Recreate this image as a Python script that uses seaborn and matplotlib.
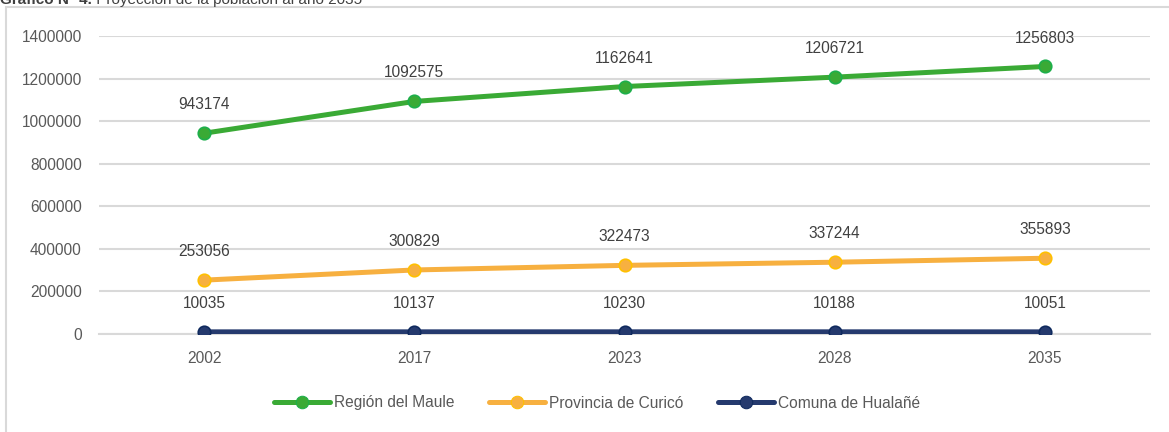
import matplotlib
matplotlib.use("Agg")
import matplotlib.pyplot as plt
import seaborn as sns
import pandas as pd
from matplotlib.patches import Rectangle

years = ["2002", "2017", "2023", "2028", "2035"]
series_names = ["Región del Maule", "Provincia de Curicó", "Comuna de Hualañé"]
maule = [943174, 1092575, 1162641, 1206721, 1256803]
curico = [253056, 300829, 322473, 337244, 355893]
hualane = [10035, 10137, 10230, 10188, 10051]
yticks = [0, 200000, 400000, 600000, 800000, 1000000, 1200000, 1400000]
title_bold = "Gráfico N° 4."
title_rest = " Proyección de la población al año 2035"

colors = ["#3AAA35", "#F7B040", "#253A6E"]
edge_colors = ["#1DAF4B", "#FFC000", "#0F2A5E"]

df = pd.DataFrame({
    "Año": years * 3,
    "Población": maule + curico + hualane,
    "Serie": sum([[n] * len(years) for n in series_names], []),
})

sns.set_theme(style="white")
FONT = ["Liberation Sans Narrow", "Liberation Sans", "DejaVu Sans"]
plt.rcParams["font.family"] = FONT
TXT = "#595959"
FS = 11.2

W, H = 1169, 432
fig = plt.figure(figsize=(W / 100, H / 100), dpi=100)
ax = fig.add_axes([99 / W, (H - 334) / H, (1150 - 99) / W, (334 - 36) / H])

# outer frame
fig.patches.append(Rectangle((6 / W, -0.1), 1.2, (H - 7) / H + 0.1, transform=fig.transFigure,
                             fill=False, edgecolor="#D9D9D9", linewidth=1.5))

sns.lineplot(data=df, x="Año", y="Población", hue="Serie", palette=colors,
             linewidth=3.6, marker="o", markersize=9, sort=False, ax=ax, zorder=3)

for line, ec in zip(ax.get_lines()[:3], edge_colors):
    line.set_markeredgecolor(ec)
    line.set_markeredgewidth(1.2)

for vals in (maule, curico, hualane):
    for i, v in enumerate(vals):
        ax.annotate(f"{v}", (i, v), xytext=(0, 20.5), textcoords="offset points",
                    ha="center", va="center", fontsize=FS, color="#404040", family=FONT)

ax.set_xlim(-0.5, 4.5)
ax.set_ylim(0, 1400000)
ax.set_yticks(yticks)
ax.set_yticklabels([str(t) for t in yticks])
ax.yaxis.grid(True, color="#D9D9D9", linewidth=1.5)
ax.set_axisbelow(True)
for s in ["top", "right", "left"]:
    ax.spines[s].set_visible(False)
ax.spines["bottom"].set_color("#D9D9D9")
ax.spines["bottom"].set_linewidth(1.5)
ax.tick_params(axis="both", length=0, labelsize=FS, labelcolor=TXT)
ax.tick_params(axis="y", pad=12.5)
ax.tick_params(axis="x", pad=12.5)
ax.set_xlabel("")
ax.set_ylabel("")
ax.set_facecolor("white")

handles, labels = ax.get_legend_handles_labels()
for h, ec in zip(handles, edge_colors):
    h.set_markeredgecolor(ec)
if ax.legend_:
    ax.legend_.remove()
fig.legend(handles, labels, loc="center", bbox_to_anchor=(597 / W, (H - 403) / H), ncol=3,
           frameon=False, fontsize=FS, handlelength=3.6, handletextpad=0.25,
           columnspacing=2.25, labelcolor=TXT)

# clipped title at very top (as in the reference)
t1 = fig.text(0, 1 - 4 / H, title_bold, fontsize=11, fontweight="bold", color="#404040",
              va="baseline", ha="left", family=["Liberation Sans", "DejaVu Sans"])
fig.canvas.draw()
bb = t1.get_window_extent(renderer=fig.canvas.get_renderer())
fig.text(bb.x1 / W, 1 - 4 / H, title_rest, fontsize=11, color="#404040",
         va="baseline", ha="left", family=["Liberation Sans", "DejaVu Sans"])

fig.savefig("out.png", dpi=100, facecolor="white")
